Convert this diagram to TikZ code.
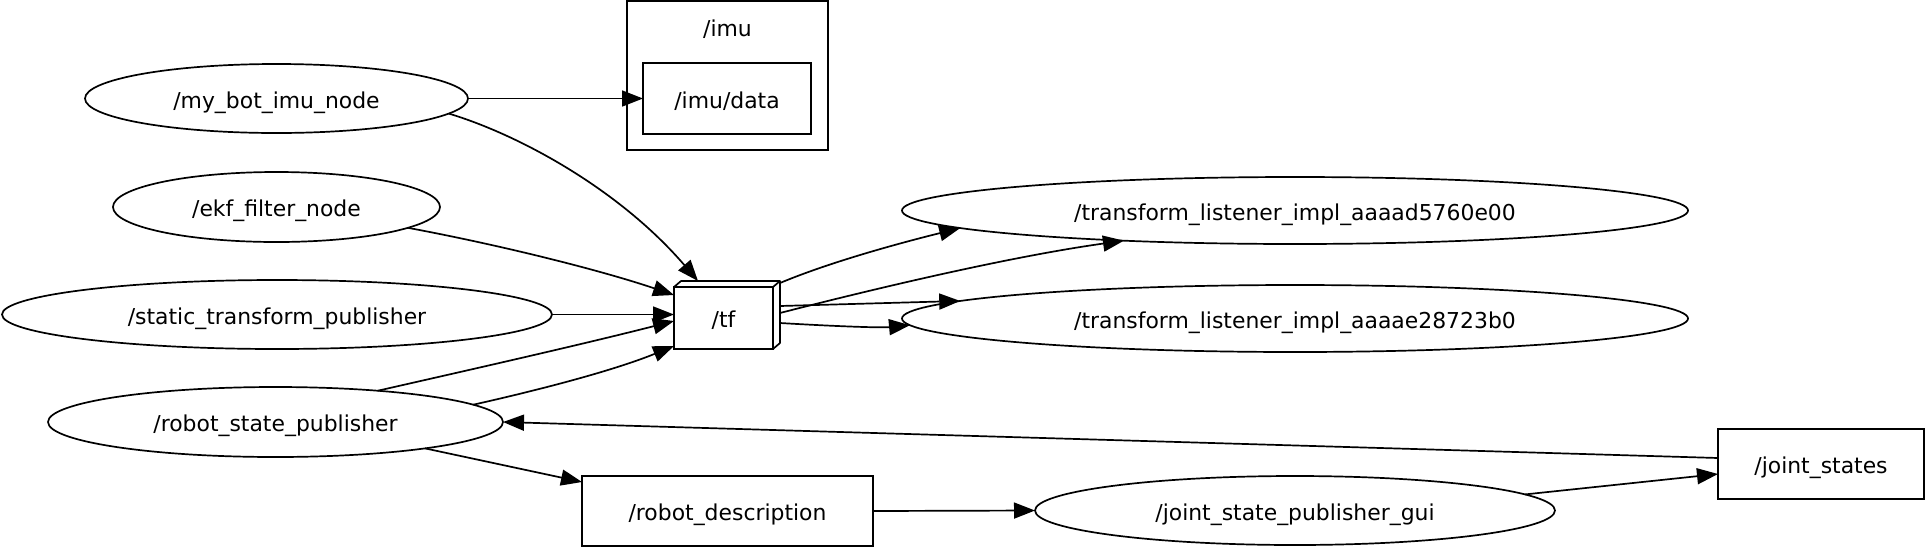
\documentclass[tikz,border=0pt]{standalone}
\usepackage{fontspec}
\setmainfont{DejaVu Sans}
\usetikzlibrary{arrows.meta,calc,shapes.geometric}
\begin{document}
\begin{tikzpicture}[x=1pt,y=1pt,line width=1.7pt,
  every node/.style={font=\fontsize{21.9}{26}\selectfont, inner sep=0pt, outer sep=0pt, text height=20pt, text depth=1pt},
  ell/.style={draw, ellipse},
  box/.style={draw, rectangle},
  edge/.style={draw, -{Triangle[length=21pt,width=16pt]}},
]
\useasboundingbox (0,0) rectangle (1925,-547);
% cluster
\node[box, minimum width=201pt, minimum height=149pt] (imucl) at (727.5,-75.5) {};
\node (imulbl) at (727.5,-27) {/imu};
\node[box, minimum width=168pt, minimum height=71pt] (imudata) at (727,-98.5) {/imu/data};
% left nodes
\node[ell, minimum width=383pt, minimum height=69pt] (imunode) at (276.5,-98.5) {/my\_bot\_imu\_node};
\node[ell, minimum width=327pt, minimum height=70pt] (ekf) at (276.5,-207) {/ekf\_filter\_node};
\node[ell, minimum width=550pt, minimum height=69pt] (stp) at (277,-314.5) {/static\_transform\_publisher};
\node[ell, minimum width=455pt, minimum height=70pt] (rsp) at (275.5,-422) {/robot\_state\_publisher};
% tf
\node[box, minimum width=99pt, minimum height=62pt] (tf) at (723.5,-318) {/tf};
\draw[line join=round] (tf.north west) -- ++(7,6) -- ($(tf.north east)+(7,6)$) -- ($(tf.south east)+(7,6)$) -- (tf.south east);
\draw (tf.north east) -- ++(7,6);
% right nodes
\node[ell, minimum width=786pt, minimum height=67pt] (tl1) at (1295,-210.5) {/transform\_listener\_impl\_aaaad5760e00};
\node[ell, minimum width=786pt, minimum height=67pt] (tl2) at (1295,-318.5) {/transform\_listener\_impl\_aaaae28723b0};
\node[box, minimum width=291pt, minimum height=70pt] (rd) at (727.5,-511) {/robot\_description};
\node[ell, minimum width=520pt, minimum height=69pt] (jspg) at (1295,-510.5) {/joint\_state\_publisher\_gui};
\node[box, minimum width=206pt, minimum height=70pt] (js) at (1821,-464) {/joint\_states};
% edges
\draw[edge] (imunode.east) -- (imudata.west);
\draw[edge] (imunode.-5.6) .. controls (520,-135) and (620,-190) .. ($(tf.north west)+(24,6)$);
\draw[edge] (ekf.-9.3) .. controls (500,-245) and (600,-270) .. ($(tf.west)+(0,23)$);
\draw[edge] (stp.east) -- (tf.west |- stp.east);
\draw[edge] (rsp.17.1) .. controls (460,-372) and (580,-345) .. ($(tf.west)+(0,-3)$);
\draw[edge] (rsp.5) .. controls (530,-392) and (610,-372) .. ($(tf.west)+(0,-28)$);
\draw[edge] (rsp.-10.6) -- ($(rd.west)+(0,29)$);
\draw[edge] (rd.east) -- (jspg.west);
\draw[edge] (jspg.4.8) -- ($(js.west)+(0,-10)$);
\draw[edge] ($(js.west)+(0,6)$) -- (rsp.east);
\draw[edge] ($(tf.east)+(7,35)$) .. controls (830,-262) and (900,-243) .. (tl1.183.6);
\draw[edge] ($(tf.east)+(7,5)$) .. controls (850,-295) and (1000,-258) .. (tl1.190.9);
\draw[edge] ($(tf.east)+(7,12)$) -- (tl2.177.6);
\draw[edge] ($(tf.east)+(7,-5)$) .. controls (830,-326) and (880,-328) .. (tl2.181.4);
\end{tikzpicture}
\end{document}
